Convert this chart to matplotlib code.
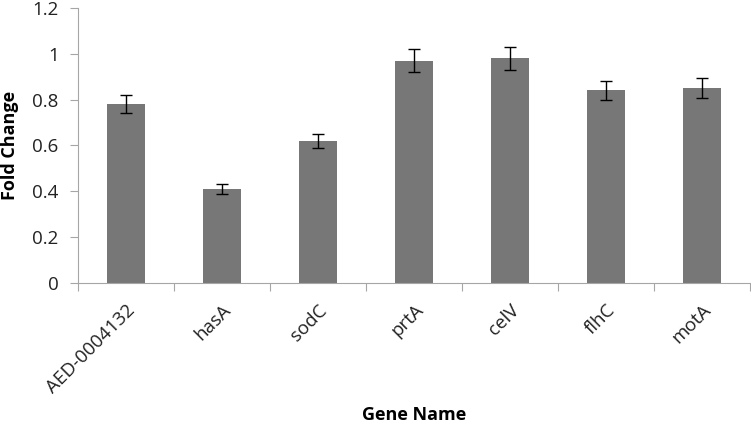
import numpy as np
import matplotlib.pyplot as plt

genes = ['AED-0004132', 'hasA', 'sodC', 'prtA', 'celV', 'flhC', 'motA']
fold = [0.78, 0.41, 0.62, 0.97, 0.98, 0.84, 0.85]
err = [0.04, 0.02, 0.03, 0.05, 0.05, 0.04, 0.045]

plt.rcParams['font.family'] = ['Open Sans', 'DejaVu Sans']

fig = plt.figure(figsize=(7.51, 4.34), dpi=100)
ax = fig.add_axes([0.104, 0.348, 0.895, 0.634])

x = np.arange(len(genes))
ax.bar(x, fold, width=0.4, color='#777777', yerr=err,
       error_kw=dict(ecolor='black', elinewidth=1, capsize=4, capthick=1))

ax.set_xlim(-0.5, len(genes) - 0.5)
ax.set_ylim(0, 1.2)
ax.set_yticks(np.arange(0, 1.21, 0.2))
ax.set_yticklabels(['0', '0.2', '0.4', '0.6', '0.8', '1', '1.2'], fontsize=13.5, color='#222222')

# category ticks at boundaries, labels at centers
ax.set_xticks(np.arange(-0.5, len(genes), 1.0))
ax.set_xticklabels([])
ax.set_xticks(x, minor=True)
ax.set_xticklabels(genes, minor=True, rotation=45, ha='right', rotation_mode='anchor',
                   fontsize=13.5, color='#222222')
ax.tick_params(axis='x', which='minor', length=0, pad=13)
ax.tick_params(axis='x', which='major', length=6, color='#a6a6a6')
ax.tick_params(axis='y', length=6, color='#a6a6a6', pad=8)

for s in ['top', 'right']:
    ax.spines[s].set_visible(False)
for s in ['left', 'bottom']:
    ax.spines[s].set_color('#a6a6a6')

ax.set_ylabel('Fold Change', fontsize=13, fontweight='bold')
ax.yaxis.set_label_coords(-0.088, 0.5)
fig.text(0.552, 0.022, 'Gene Name', fontsize=13, fontweight='bold', ha='center', va='bottom')

fig.savefig('out.png', dpi=100)
